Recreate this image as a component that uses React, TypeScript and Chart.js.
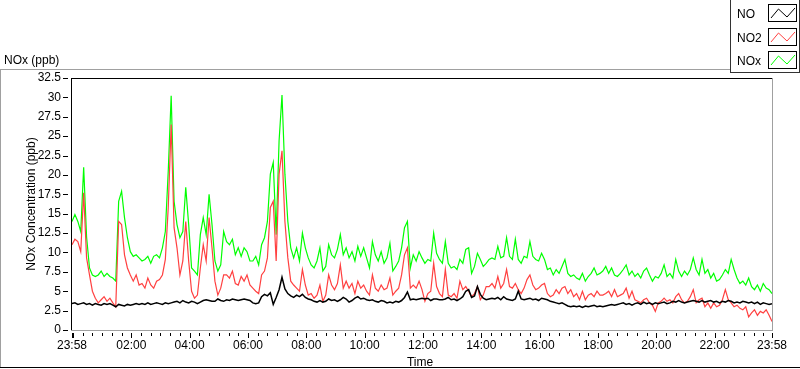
import { useEffect, useRef } from 'react';
import { Chart, registerables } from 'chart.js';

Chart.register(...registerables);

// ---- data (minutes after 23:58, sampled every 6 minutes) ----
const SAMPLE_INTERVAL_MIN = 6;
const SPAN_MIN = 1440;

const MAJOR_TICK_MINUTES = [0, 122, 242, 362, 482, 602, 722, 842, 962, 1082, 1202, 1322, 1440];
const MAJOR_TICK_LABELS = ['23:58', '02:00', '04:00', '06:00', '08:00', '10:00', '12:00', '14:00', '16:00', '18:00', '20:00', '22:00', '23:58'];
const Y_TICKS = [0, 2.5, 5, 7.5, 10, 12.5, 15, 17.5, 20, 22.5, 25, 27.5, 30, 32.5];
const Y_TICK_LABELS = ['0', '2.5', '5', '7.5', '10', '12.5', '15', '17.5', '20', '22.5', '25', '27.5', '30', '32.5'];

const SERIES_NAMES = ['NO', 'NO2', 'NOx'];
const SERIES_COLORS = ['#000000', '#ff4040', '#00ff00'];
const SERIES_WIDTHS = [1.5, 1.2, 1.2];

const NO_VALUES = [
  3.4, 3.5, 3.3, 3.4, 3.5, 3.3, 3.4, 3.2, 3.4, 3.3,
  3.2, 3.4, 3.3, 3.4, 3.2, 3.0, 3.3, 3.2, 3.1, 3.3,
  3.2, 3.3, 3.4, 3.3, 3.4, 3.3, 3.5, 3.3, 3.4, 3.5,
  3.4, 3.3, 3.5, 3.4, 3.5, 3.6, 3.7, 3.5, 3.8, 3.6,
  3.5, 3.7, 3.6, 3.4, 3.6, 3.8, 3.9, 3.8, 3.7, 3.7,
  4.0, 3.8, 3.7, 3.9, 3.8, 4.0, 3.9, 3.8, 3.9, 4.0,
  3.9, 3.8,
  3.5, 3.4, 3.5, 4.3, 4.6, 4.4, 4.8, 3.3, 4.2, 5.2,
  6.8, 5.3, 4.7, 4.4, 4.2, 4.5, 4.3, 4.6, 4.2, 4.0,
  3.9, 3.7, 3.6, 3.8, 3.6, 3.7, 4.0, 3.8, 3.9, 3.7,
  3.9, 4.2, 4.0, 3.6, 3.8, 4.1, 4.3, 4.0, 4.1, 3.9,
  3.8, 3.9, 3.7, 3.6, 3.8, 3.7, 3.5, 3.6, 3.5, 3.7,
  3.6, 3.8, 4.2, 4.9, 3.9, 4.0, 3.9, 4.0, 4.1, 4.0,
  4.1, 3.8, 4.0, 4.0, 3.9, 3.9, 4.0, 4.2, 3.9, 4.0,
  3.8, 4.0, 4.3, 5.0, 5.2, 4.2, 4.4, 5.6, 4.6, 4.1,
  3.9, 4.0, 4.1, 4.0, 4.2, 3.9, 4.3, 4.0, 3.9, 3.8,
  4.0, 5.0, 4.0, 3.9, 4.0, 4.1, 3.9, 4.0, 3.8, 4.1,
  4.0, 3.9, 3.7, 3.6, 3.5, 3.4, 3.5, 3.3, 3.1, 3.0,
  3.1, 3.0, 3.1, 2.9, 3.1, 3.0, 3.1, 3.2, 3.0, 3.1,
  3.0, 3.1, 3.2, 3.3, 3.2, 3.3, 3.4, 3.5, 3.3, 3.4,
  3.2, 3.4, 3.5, 3.3, 3.6, 3.4, 3.5, 3.3, 3.5, 3.4,
  3.5, 3.6, 3.4, 3.5, 3.7, 3.6, 3.8, 3.6, 3.5, 3.6,
  3.7, 3.8, 3.7, 3.6, 3.8, 3.6, 3.7, 3.8, 3.6, 3.7,
  3.5, 3.7, 3.6, 3.8, 3.7, 3.5, 3.6, 3.5, 3.7, 3.6,
  3.5, 3.6, 3.4, 3.6, 3.3, 3.5, 3.4, 3.3, 3.4,
];

const NO2_VALUES = [
  11.0, 11.7, 11.4, 10.1, 17.7, 9.3, 7.1, 5.0, 4.1, 3.5,
  3.9, 4.3, 3.7, 4.1, 3.5, 3.0, 14.0, 13.6, 9.7, 8.0,
  7.1, 6.3, 7.1, 5.8, 6.0, 5.4, 6.7, 5.8, 5.4, 6.3,
  6.5, 7.1, 9.1, 15.8, 26.5, 13.2, 10.6, 7.1, 8.9, 14.0,
  8.9, 5.0, 4.1, 4.5, 8.0, 11.0, 8.9, 14.5, 10.6, 6.3,
  4.5, 5.4, 7.1, 7.1, 6.7, 7.6, 6.0, 5.8, 6.9, 6.3,
  7.1, 5.8,
  5.4, 5.0, 4.7, 7.1, 7.6, 9.3, 15.8, 16.6, 8.9, 20.1,
  23.1, 14.0, 9.3, 6.3, 5.8, 5.4, 5.0, 7.8, 5.8, 4.5,
  4.7, 4.1, 4.5, 5.8, 3.7, 4.5, 7.1, 5.8, 5.2, 6.0,
  8.4, 5.4, 6.3, 5.4, 6.0, 4.7, 6.3, 5.4, 5.8, 5.0,
  4.5, 7.1, 5.4, 5.0, 5.8, 5.2, 5.4, 6.7, 4.5, 5.0,
  5.4, 7.1, 9.7, 10.6, 5.4, 5.8, 5.4, 6.3, 5.2, 3.7,
  4.7, 5.0, 8.6, 5.6, 4.7, 4.3, 7.8, 4.5, 4.3, 4.7,
  4.1, 6.3, 5.2, 5.6, 5.0, 4.3, 4.7, 5.6, 3.9, 4.5,
  5.6, 5.6, 6.0, 5.4, 6.9, 5.4, 6.0, 7.8, 5.6, 5.4,
  6.0, 5.2, 4.7, 5.4, 6.5, 7.1, 5.8, 5.2, 5.4, 5.8,
  6.0, 4.7, 4.3, 4.5, 5.2, 4.7, 5.4, 5.6, 4.7, 5.2,
  4.3, 4.7, 3.9, 5.0, 3.9, 4.5, 4.7, 4.3, 5.0, 4.5,
  4.5, 4.7, 5.0, 4.3, 5.2, 4.3, 4.5, 4.7, 5.4, 4.1,
  5.0, 3.9, 3.7, 3.5, 3.9, 4.1, 3.5, 3.2, 2.4, 3.5,
  3.7, 4.1, 3.7, 3.9, 3.5, 4.3, 4.7, 3.9, 3.5, 3.7,
  4.3, 5.2, 3.5, 3.9, 4.1, 3.0, 3.5, 2.8, 3.5, 3.0,
  3.2, 3.9, 5.2, 3.9, 3.5, 3.0, 3.2, 2.8, 2.6, 3.0,
  1.7, 2.2, 2.6, 1.9, 2.4, 2.2, 2.6, 1.9, 1.1,
];

const NOX_VALUES = [
  14.0, 14.9, 14.0, 12.7, 21.0, 12.0, 8.0, 7.1, 6.9, 7.1,
  7.6, 6.9, 7.3, 6.9, 6.7, 6.3, 16.6, 17.9, 14.5, 11.9,
  10.1, 9.5, 9.7, 9.3, 8.9, 9.1, 9.5, 8.6, 9.5, 9.7,
  9.3, 10.6, 12.7, 20.5, 30.2, 16.6, 13.6, 11.9, 12.7, 18.4,
  13.6, 8.0, 7.6, 7.1, 12.3, 14.5, 12.3, 17.5, 13.6, 8.9,
  7.6, 8.4, 12.7, 11.4, 11.0, 11.7, 9.7, 10.6, 9.5, 10.6,
  10.1, 8.9,
  8.9, 9.5, 8.4, 11.0, 11.9, 14.0, 20.1, 21.6, 12.3, 24.4,
  30.3, 20.1, 14.0, 10.6, 9.3, 10.6, 8.9, 12.5, 10.6, 9.3,
  8.4, 8.0, 8.9, 10.6, 7.6, 8.2, 11.0, 9.7, 9.3, 10.4,
  12.3, 9.7, 10.6, 9.3, 10.1, 8.9, 10.8, 9.5, 10.6, 9.3,
  8.0, 11.4, 9.7, 8.9, 10.1, 8.6, 9.3, 11.2, 7.6, 8.2,
  8.9, 10.6, 13.2, 14.0, 8.0, 9.7, 8.9, 10.1, 9.3, 8.6,
  9.1, 8.9, 12.5, 9.9, 9.1, 8.6, 11.4, 8.6, 8.0, 8.2,
  7.8, 9.1, 8.6, 10.4, 10.6, 7.3, 8.2, 9.9, 9.1, 8.2,
  8.6, 9.1, 9.3, 9.1, 10.8, 9.3, 9.5, 11.9, 9.5, 9.1,
  11.7, 9.1, 8.6, 9.5, 9.3, 11.4, 9.5, 9.1, 8.9, 9.9,
  9.1, 7.8, 8.0, 7.1, 7.8, 7.3, 8.2, 9.1, 7.3, 6.9,
  7.1, 6.7, 6.5, 7.3, 6.3, 6.9, 7.3, 8.0, 7.1, 7.3,
  7.6, 8.2, 7.3, 8.0, 7.1, 6.9, 7.3, 7.8, 8.4, 7.1,
  7.6, 6.9, 7.3, 6.7, 7.6, 8.0, 7.1, 6.3, 6.9, 6.7,
  7.3, 8.4, 6.9, 7.3, 6.7, 9.1, 7.6, 6.9, 7.6, 7.1,
  7.8, 9.3, 7.8, 7.1, 9.1, 7.3, 7.8, 6.7, 7.3, 6.3,
  6.5, 7.1, 7.8, 7.3, 9.1, 7.8, 6.7, 6.0, 6.3, 5.8,
  6.7, 5.6, 5.2, 5.8, 5.0, 6.0, 5.4, 5.2, 4.7,
];

const FONT_FAMILY = '"Liberation Sans", Arial, sans-serif';

const toPoints = (values: number[]) =>
  values.map((v, i) => ({ x: i * SAMPLE_INTERVAL_MIN, y: v }));

const decorPlugin = {
  id: 'labviewDecor',
  afterDraw(chart: any) {
    const ctx: CanvasRenderingContext2D = chart.ctx;
    const { left, right, top, bottom } = chart.chartArea;
    const xs = chart.scales.x;
    const ys = chart.scales.y;
    const L = Math.round(left);
    const R = Math.round(right);
    const T = Math.round(top);
    const B = Math.round(bottom);
    ctx.save();

    // outer panel frame
    ctx.fillStyle = '#a0a0a0';
    ctx.fillRect(0, 69, 730, 1);
    ctx.fillRect(0, 69, 1, 299);
    ctx.fillStyle = '#000';
    ctx.fillRect(0, 367, 800, 1);

    // plot frame (dark top/left, gray bottom/right)
    ctx.fillStyle = '#000';
    ctx.fillRect(L - 1, T, R - L + 2, 1);
    ctx.fillRect(L - 1, T, 1, B - T + 1);
    ctx.fillStyle = '#a0a0a0';
    ctx.fillRect(L - 1, B, R - L + 2, 1);
    ctx.fillRect(R, T, 1, B - T + 1);

    // y tick marks
    ctx.fillStyle = '#000';
    for (const v of Y_TICKS) {
      const y = Math.round(ys.getPixelForValue(v));
      ctx.fillRect(L - 9, y, 5, 1);
    }

    // x tick marks: majors + 20-minute minors (clock aligned)
    for (const m of MAJOR_TICK_MINUTES) {
      const x = Math.round(xs.getPixelForValue(m));
      ctx.fillRect(x, B + 3, 1, 5);
    }
    for (let m = 2; m < SPAN_MIN; m += 20) {
      const x = Math.round(xs.getPixelForValue(m));
      const major = (m - 2) % 120 === 0;
      ctx.fillRect(x, B + 3, 1, major ? 5 : 3);
    }

    // texts
    ctx.fillStyle = '#000';
    ctx.font = `12px ${FONT_FAMILY}`;
    ctx.textBaseline = 'alphabetic';
    ctx.textAlign = 'left';
    ctx.fillText('NOx (ppb)', 4, 64);

    ctx.textAlign = 'center';
    ctx.fillText('Time', 420, 366);

    ctx.save();
    ctx.translate(35, (T + B) / 2);
    ctx.rotate(-Math.PI / 2);
    ctx.textAlign = 'center';
    ctx.fillText('NOx Concentration (ppb)', 0, 0);
    ctx.restore();

    // legend panel
    ctx.fillStyle = '#333';
    ctx.fillRect(730, 0, 1, 72);
    ctx.fillRect(730, 72, 70, 1);
    ctx.fillRect(799, 0, 1, 73);

    chart.data.datasets.forEach((ds: any, k: number) => {
      const base = Math.round(k * 23.5);
      ctx.fillStyle = '#000';
      ctx.textAlign = 'left';
      ctx.textBaseline = 'alphabetic';
      ctx.fillText(ds.label, 737, 18 + base);
      ctx.strokeStyle = '#000';
      ctx.lineWidth = 1;
      ctx.strokeRect(768.5, 4.5 + base, 28, 17);
      ctx.strokeStyle = ds.borderColor;
      ctx.beginPath();
      ctx.moveTo(771, 18 + base);
      ctx.lineTo(778.5, 9 + base);
      ctx.lineTo(787, 17 + base);
      ctx.lineTo(795, 8 + base);
      ctx.stroke();
    });

    ctx.restore();
  },
};

export default function App() {
  const canvasRef = useRef<HTMLCanvasElement | null>(null);

  useEffect(() => {
    const canvas = canvasRef.current;
    if (!canvas) return;
    const seriesValues = [NO_VALUES, NO2_VALUES, NOX_VALUES];
    const chart = new Chart(canvas, {
      type: 'line',
      data: {
        datasets: SERIES_NAMES.map((name, k) => ({
          label: name,
          data: toPoints(seriesValues[k]),
          borderColor: SERIES_COLORS[k],
          backgroundColor: SERIES_COLORS[k],
          borderWidth: SERIES_WIDTHS[k],
          pointRadius: 0,
          tension: 0,
          fill: false,
        })),
      },
      options: {
        animation: false,
        responsive: false,
        devicePixelRatio: 1,
        layout: { padding: { left: 0, top: 78, right: 28, bottom: 0 } },
        plugins: {
          legend: { display: false },
          tooltip: { enabled: false },
        },
        scales: {
          x: {
            type: 'linear',
            min: 0,
            max: SPAN_MIN,
            grid: { display: false, drawTicks: false, tickLength: 0 },
            border: { display: false },
            afterBuildTicks: (scale: any) => {
              scale.ticks = MAJOR_TICK_MINUTES.map((v) => ({ value: v }));
            },
            afterFit: (scale: any) => {
              scale.height = 39;
            },
            ticks: {
              autoSkip: false,
              maxRotation: 0,
              minRotation: 0,
              padding: 8,
              color: '#000',
              font: { family: FONT_FAMILY, size: 12 },
              callback: (value: any) => {
                const idx = MAJOR_TICK_MINUTES.indexOf(Number(value));
                return idx >= 0 ? MAJOR_TICK_LABELS[idx] : '';
              },
            },
          },
          y: {
            type: 'linear',
            min: 0,
            max: 32.5,
            grid: { display: false, drawTicks: false, tickLength: 0 },
            border: { display: false },
            afterBuildTicks: (scale: any) => {
              scale.ticks = Y_TICKS.map((v) => ({ value: v }));
            },
            afterFit: (scale: any) => {
              scale.width = 72;
            },
            ticks: {
              autoSkip: false,
              padding: 11,
              color: '#000',
              font: { family: FONT_FAMILY, size: 12 },
              callback: (value: any) => {
                const idx = Y_TICKS.indexOf(Number(value));
                return idx >= 0 ? Y_TICK_LABELS[idx] : '';
              },
            },
          },
        },
      },
      plugins: [decorPlugin],
    });
    return () => chart.destroy();
  }, []);

  return (
    <div style={{ position: 'absolute', left: 0, top: 0, width: 800, height: 369, background: '#fff' }}>
      <canvas ref={canvasRef} width={800} height={369} style={{ display: 'block', width: 800, height: 369 }} />
    </div>
  );
}
